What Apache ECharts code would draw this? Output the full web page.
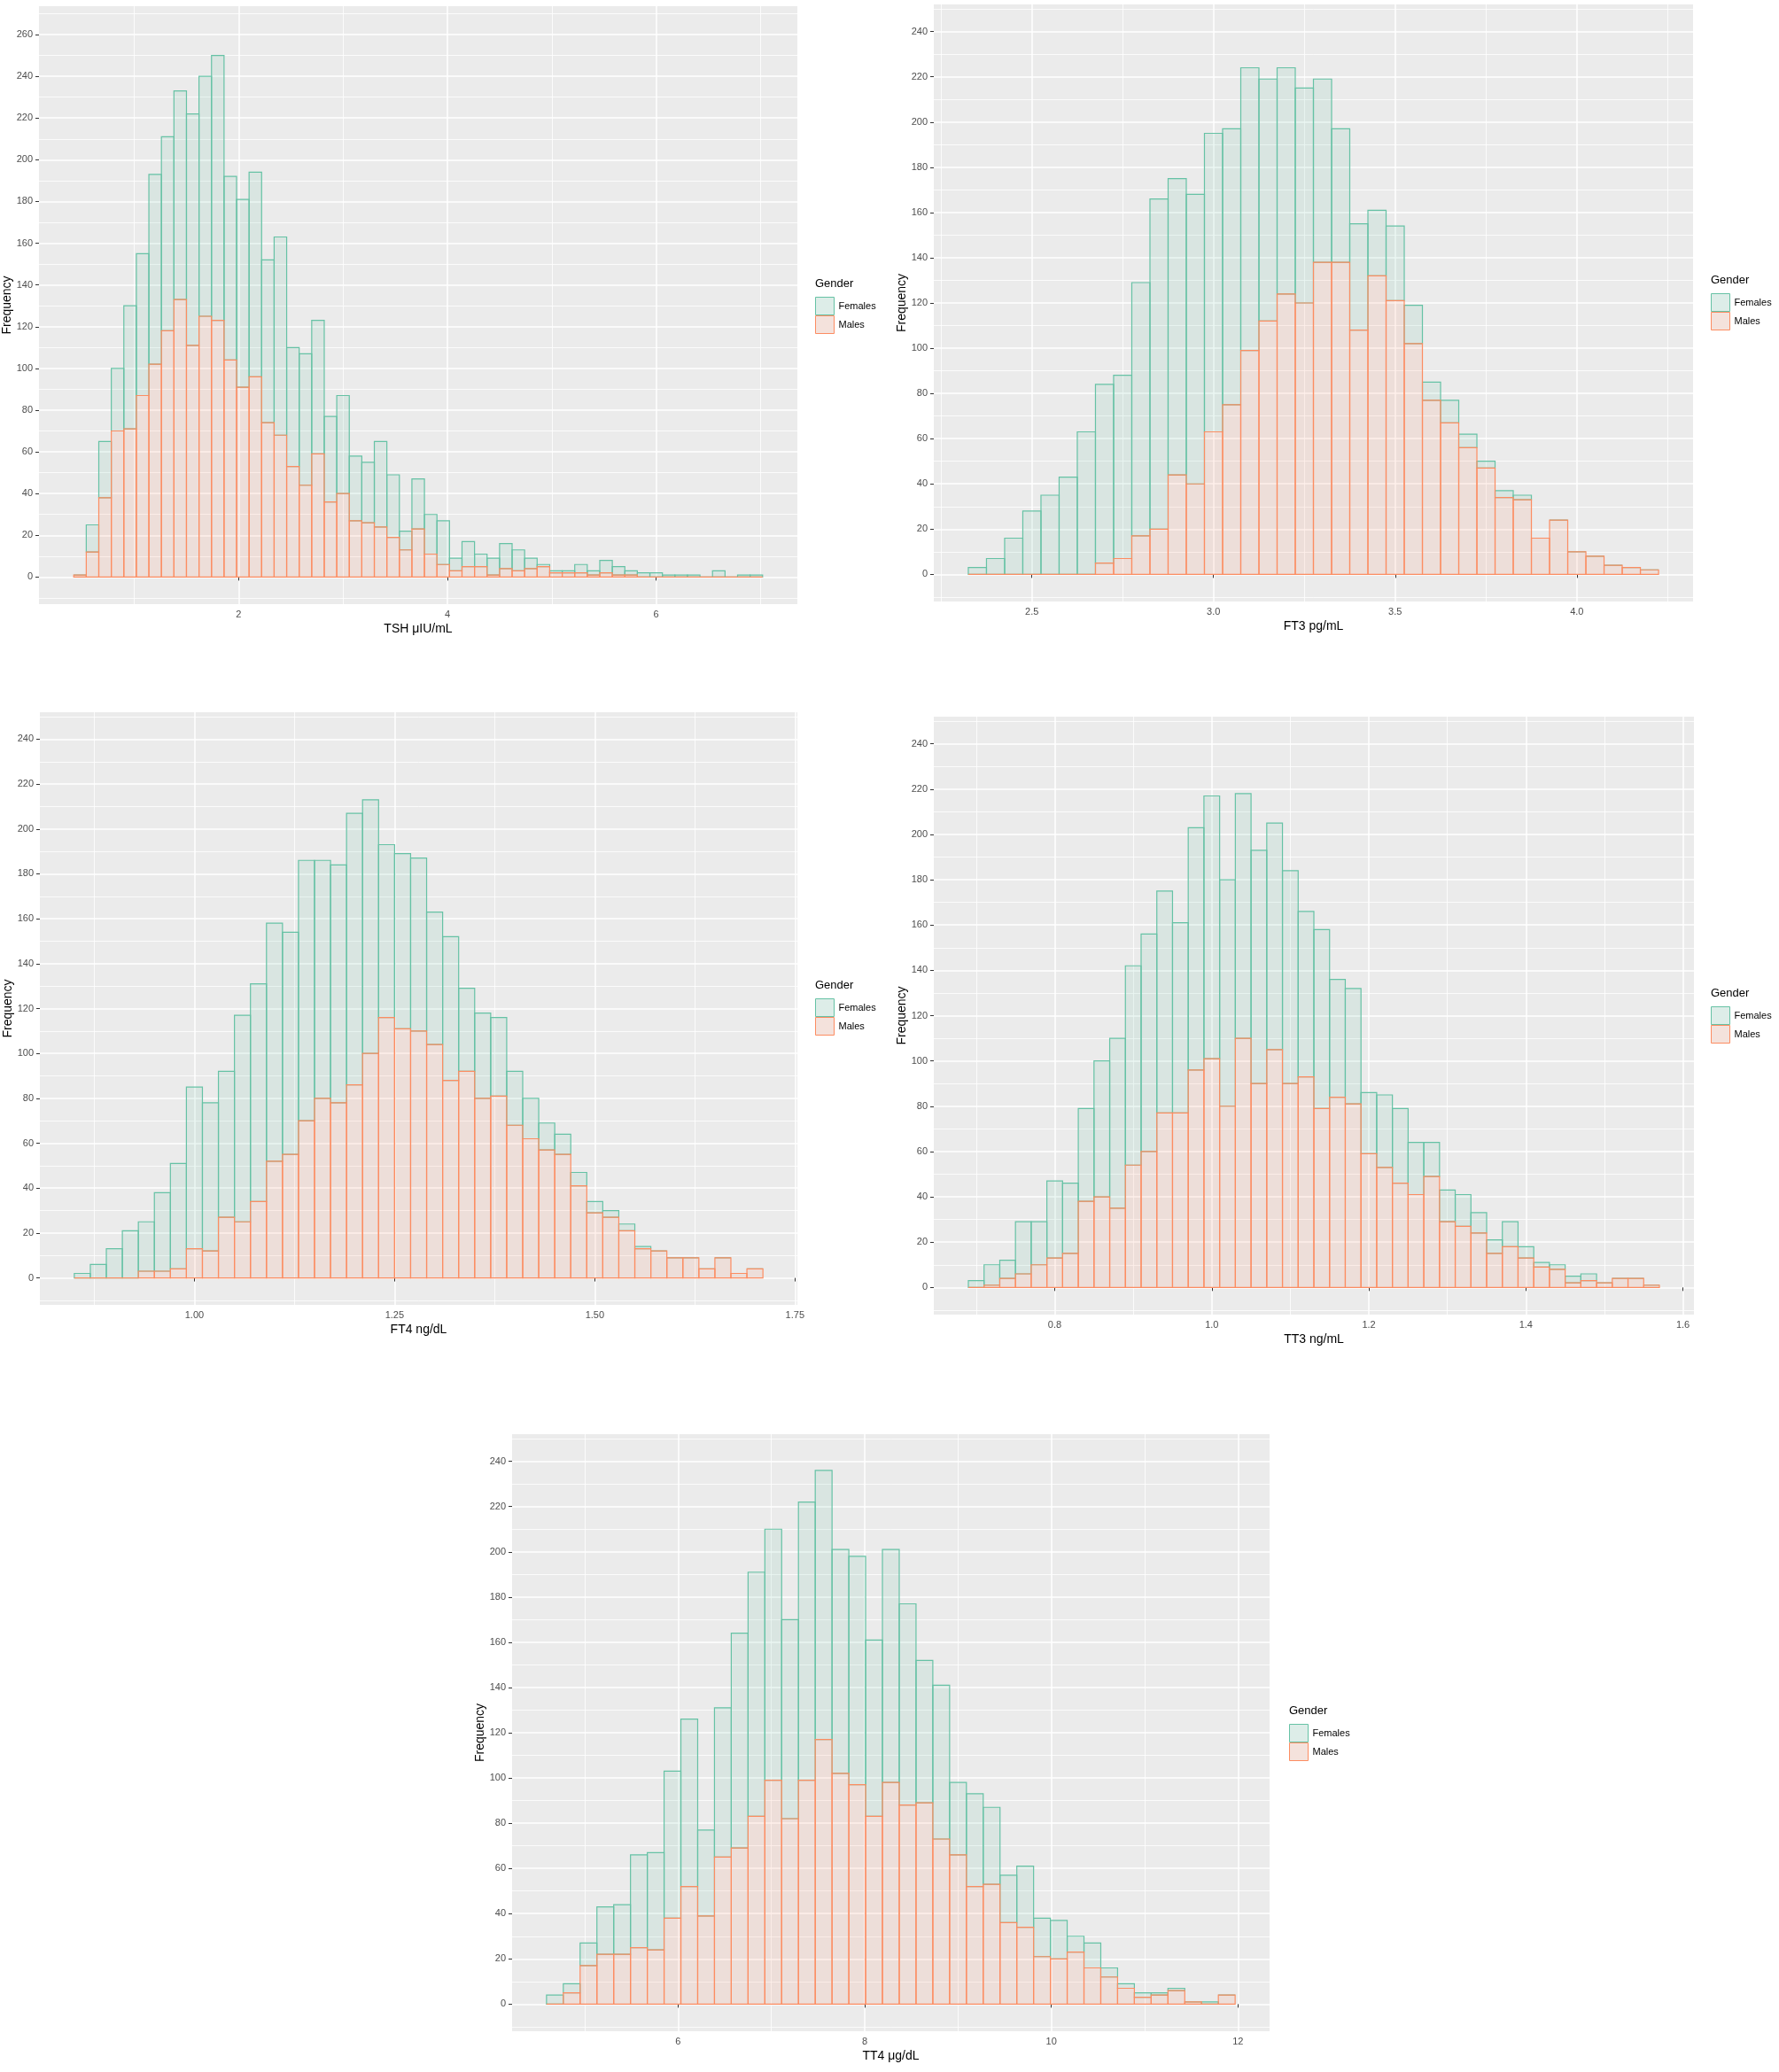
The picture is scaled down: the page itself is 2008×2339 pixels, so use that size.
<!DOCTYPE html>
<html>
<head>
<meta charset="utf-8">
<script src="https://cdn.jsdelivr.net/npm/echarts@6/dist/echarts.min.js"></script>
<style>
  html, body { margin: 0; padding: 0; background: #fff; }
  #chart { width: 2008px; height: 2339px; }
</style>
</head>
<body>
<div id="chart"></div>
<script>
// histogram bins: left edge of first bin + bin width
const tshStart = 0.42, tshWidth = 0.12;
const tshFemales = [0,13,27,30,59,68,91,93,100,111,115,127,88,90,98,78,95,57,63,64,41,47,31,29,41,30,9,24,19,21,6,12,6,8,12,10,5,1,1,1,4,2,6,4,2,2,2,1,1,1,0,3,0,1,1];
const tshMales = [1,12,38,70,71,87,102,118,133,111,125,123,104,91,96,74,68,53,44,59,36,40,27,26,24,19,13,23,11,6,3,5,5,1,4,3,4,5,2,2,2,1,2,1,1,0,0,0,0,0,0,0,0,0,0];

const ft3Start = 2.325, ft3Width = 0.05;
const ft3Females = [3,7,16,28,35,43,63,79,81,112,146,131,128,132,122,125,107,100,95,81,59,47,29,33,17,8,10,6,3,3,2,0,0,0,0,0,0,0];
const ft3Males = [0,0,0,0,0,0,0,5,7,17,20,44,40,63,75,99,112,124,120,138,138,108,132,121,102,77,67,56,47,34,33,16,24,10,8,4,3,2];

const ft4Start = 0.85, ft4Width = 0.02;
const ft4Females = [2,6,13,21,22,35,47,72,66,65,92,97,106,99,116,106,106,121,113,77,78,77,59,64,37,38,35,24,18,12,9,6,5,3,3,1,0,0,0,0,0,0,0];
const ft4Males = [0,0,0,0,3,3,4,13,12,27,25,34,52,55,70,80,78,86,100,116,111,110,104,88,92,80,81,68,62,57,55,41,29,27,21,13,12,9,9,4,9,2,4];

const tt3Start = 0.69, tt3Width = 0.02;
const tt3Females = [3,9,8,23,19,34,31,41,60,75,88,96,98,84,107,116,100,108,103,100,94,73,79,52,51,27,32,33,23,15,14,14,9,6,11,5,2,2,3,3,0,0,0,0];
const tt3Males = [0,1,4,6,10,13,15,38,40,35,54,60,77,77,96,101,80,110,90,105,90,93,79,84,81,59,53,46,41,49,29,27,24,15,18,13,9,8,2,3,2,4,4,1];

const tt4Start = 4.59, tt4Width = 0.18;
const tt4Females = [4,4,10,21,22,41,43,65,74,38,66,95,108,111,88,123,119,99,101,78,103,89,63,68,32,41,34,21,27,17,17,7,11,4,2,2,1,1,0,1,0];
const tt4Males = [0,5,17,22,22,25,24,38,52,39,65,69,83,99,82,99,117,102,97,83,98,88,89,73,66,52,53,36,34,21,20,23,16,12,7,3,4,6,1,0,4];

// axis ticks (major = labelled, minor = grid only)
const tshTicks = [2, 4, 6], tshMinor = [1, 3, 5, 7];
const ft3Ticks = [2.5, 3.0, 3.5, 4.0], ft3Minor = [2.25, 2.75, 3.25, 3.75, 4.25];
const ft4Ticks = [1.00, 1.25, 1.50, 1.75], ft4Minor = [0.875, 1.125, 1.375, 1.625];
const tt3Ticks = [0.8, 1.0, 1.2, 1.4, 1.6], tt3Minor = [0.7, 0.9, 1.1, 1.3, 1.5];
const tt4Ticks = [6, 8, 10, 12], tt4Minor = [5, 7, 9, 11];
const freqTicks = [0,20,40,60,80,100,120,140,160,180,200,220,240];
const freqMinor = [-10,10,30,50,70,90,110,130,150,170,190,210,230,250];
const tshFreqTicks = [0,20,40,60,80,100,120,140,160,180,200,220,240,260];
const tshFreqMinor = [-10,10,30,50,70,90,110,130,150,170,190,210,230,250,270];

const seriesNames = ['Females', 'Males'];
const xTitles = ['TSH μIU/mL', 'FT3 pg/mL', 'FT4 ng/dL', 'TT3 ng/mL', 'TT4 μg/dL'];

const FONT = 'Liberation Sans, Arial, sans-serif';
const femaleFill = 'rgba(102,194,165,0.13)', femaleLine = '#66C2A5';
const maleFill = 'rgba(252,141,98,0.13)', maleLine = '#FC8D62';

const panels = [
  { females: tshFemales, males: tshMales, start: tshStart, width: tshWidth,
    xr: [0.087, 7.353], yr: [-13, 273.6], xt: tshTicks, xm: tshMinor, yt: tshFreqTicks, ym: tshFreqMinor, dec: 0,
    grid: { left: 44, top: 7, width: 856, height: 675 }, leg: { left: 920, top: 314 } },
  { females: ft3Females, males: ft3Males, start: ft3Start, width: ft3Width,
    xr: [2.23, 4.32], yr: [-12, 252], xt: ft3Ticks, xm: ft3Minor, yt: freqTicks, ym: freqMinor, dec: 1,
    grid: { left: 1054, top: 5, width: 857, height: 674 }, leg: { left: 1931, top: 310 } },
  { females: ft4Females, males: ft4Males, start: ft4Start, width: ft4Width,
    xr: [0.807, 1.753], yr: [-12, 252], xt: ft4Ticks, xm: ft4Minor, yt: freqTicks, ym: freqMinor, dec: 2,
    grid: { left: 45, top: 804, width: 855, height: 669 }, leg: { left: 920, top: 1106 } },
  { females: tt3Females, males: tt3Males, start: tt3Start, width: tt3Width,
    xr: [0.646, 1.614], yr: [-12, 252], xt: tt3Ticks, xm: tt3Minor, yt: freqTicks, ym: freqMinor, dec: 1,
    grid: { left: 1054, top: 809, width: 858, height: 675 }, leg: { left: 1931, top: 1115 } },
  { females: tt4Females, males: tt4Males, start: tt4Start, width: tt4Width,
    xr: [4.221, 12.339], yr: [-12, 252], xt: tt4Ticks, xm: tt4Minor, yt: freqTicks, ym: freqMinor, dec: 0,
    grid: { left: 578, top: 1619, width: 855, height: 674 }, leg: { left: 1455, top: 1925 } }
];

function histSeries(name, g, data, fill, line) {
  return {
    type: 'custom', name: name, xAxisIndex: 2 * g, yAxisIndex: 2 * g,
    data: data, encode: { x: [0, 1], y: [2, 3] }, silent: true,
    itemStyle: { color: fill, borderColor: line },
    renderItem: function (params, api) {
      const a = api.coord([api.value(0), api.value(3)]);
      const b = api.coord([api.value(1), api.value(2)]);
      return {
        type: 'rect',
        shape: { x: a[0], y: a[1], width: b[0] - a[0], height: b[1] - a[1] },
        style: { fill: fill, stroke: line, lineWidth: 1.2 }
      };
    }
  };
}

const option = { animation: false, backgroundColor: '#fff', title: [], legend: [], grid: [], xAxis: [], yAxis: [], series: [] };

panels.forEach(function (p, g) {
  option.grid.push(Object.assign({ show: true, backgroundColor: '#EBEBEB', borderWidth: 0, outerBoundsMode: 'none' }, p.grid));

  // main x axis + minor-grid x axis
  option.xAxis.push({
    type: 'value', gridIndex: g, min: p.xr[0], max: p.xr[1],
    axisLine: { show: false },
    axisTick: { show: true, length: 4, customValues: p.xt, lineStyle: { color: '#333', width: 1 } },
    axisLabel: { customValues: p.xt, color: '#4D4D4D', fontSize: 11, fontFamily: FONT, margin: 6,
      formatter: function (v) { return v.toFixed(p.dec); } },
    splitLine: { show: true, lineStyle: { color: '#fff', width: 1.5 } },
    name: xTitles[g], nameLocation: 'middle', nameGap: 21,
    nameTextStyle: { color: '#000', fontSize: 14, fontFamily: FONT }
  });
  option.xAxis.push({
    type: 'value', gridIndex: g, min: p.xr[0], max: p.xr[1],
    axisLine: { show: false }, axisTick: { show: false, customValues: p.xm },
    axisLabel: { show: false }, splitLine: { show: true, lineStyle: { color: '#fff', width: 0.8 } }
  });

  option.yAxis.push({
    type: 'value', gridIndex: g, min: p.yr[0], max: p.yr[1],
    axisLine: { show: false },
    axisTick: { show: true, length: 4, customValues: p.yt, lineStyle: { color: '#333', width: 1 } },
    axisLabel: { customValues: p.yt, color: '#4D4D4D', fontSize: 11, fontFamily: FONT, margin: 7 },
    splitLine: { show: true, lineStyle: { color: '#fff', width: 1.5 } },
    name: 'Frequency', nameLocation: 'middle', nameGap: 28,
    nameTextStyle: { color: '#000', fontSize: 14, fontFamily: FONT }
  });
  option.yAxis.push({
    type: 'value', gridIndex: g, min: p.yr[0], max: p.yr[1],
    axisLine: { show: false }, axisTick: { show: false, customValues: p.ym },
    axisLabel: { show: false }, splitLine: { show: true, lineStyle: { color: '#fff', width: 0.8 } }
  });

  const femaleData = p.females.map(function (f, i) {
    const x0 = p.start + i * p.width;
    return [x0, x0 + p.width, p.males[i], p.males[i] + f];
  });
  const maleData = p.males.map(function (m, i) {
    const x0 = p.start + i * p.width;
    return [x0, x0 + p.width, 0, m];
  });
  option.series.push(histSeries(seriesNames[0], g, femaleData, femaleFill, femaleLine));
  option.series.push(histSeries(seriesNames[1], g, maleData, maleFill, maleLine));

  option.title.push({
    text: 'Gender', left: p.leg.left, top: p.leg.top, padding: 0,
    textStyle: { color: '#000', fontSize: 13, fontWeight: 'normal', fontFamily: FONT }
  });
  option.legend.push({
    orient: 'vertical', left: p.leg.left, top: p.leg.top + 21, padding: 0,
    itemWidth: 21, itemHeight: 20, itemGap: 0, icon: 'rect', selectedMode: false,
    textStyle: { color: '#000', fontSize: 11, fontFamily: FONT },
    data: [
      { name: seriesNames[0], itemStyle: { color: '#DDEDE8', borderColor: femaleLine, borderWidth: 1 } },
      { name: seriesNames[1], itemStyle: { color: '#F4E2DC', borderColor: maleLine, borderWidth: 1 } }
    ]
  });
});

const myChart = echarts.init(document.getElementById('chart'));
myChart.setOption(option);
window.addEventListener('resize', function () { myChart.resize(); });
</script>
</body>
</html>
